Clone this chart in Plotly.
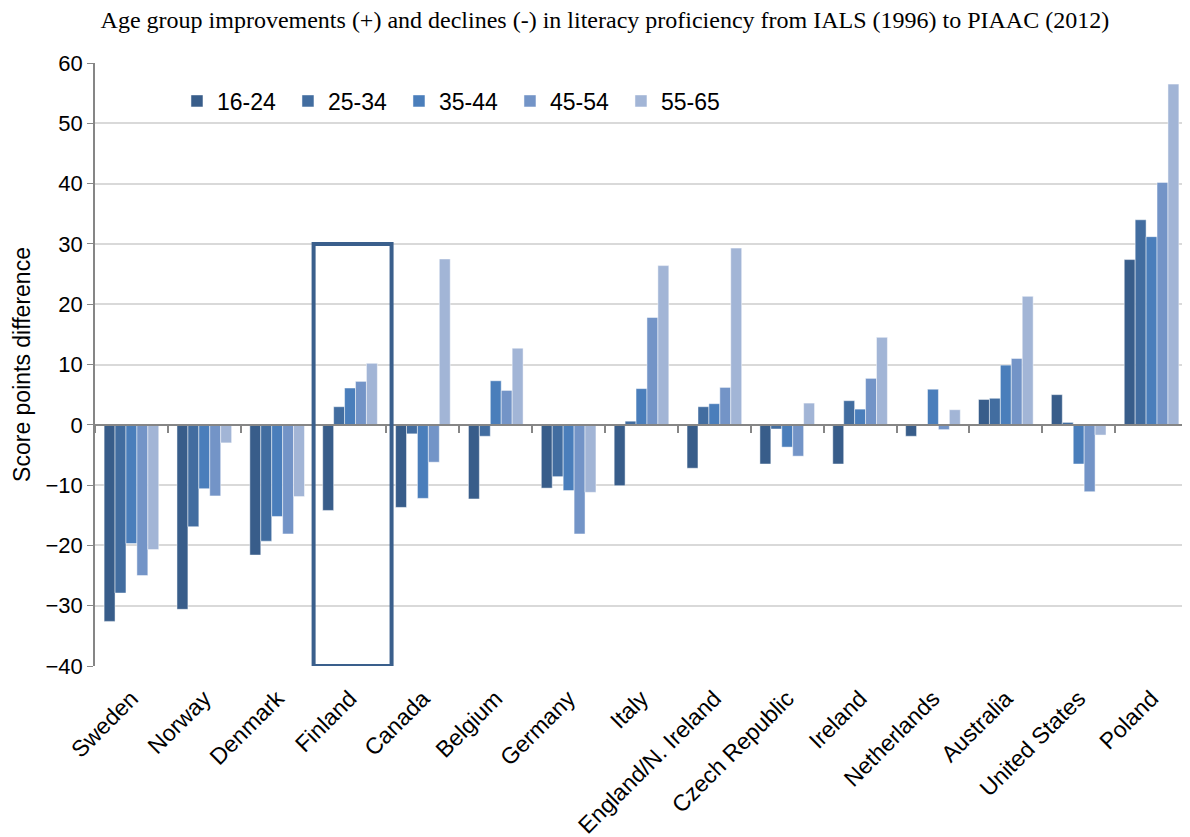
import plotly.graph_objects as go

countries = ["Sweden", "Norway", "Denmark", "Finland", "Canada", "Belgium", "Germany",
             "Italy", "England/N. Ireland", "Czech Republic", "Ireland", "Netherlands",
             "Australia", "United States", "Poland"]
groups = ["16-24", "25-34", "35-44", "45-54", "55-65"]

v_16_24 = [-32.6, -30.6, -21.6, -14.2, -13.7, -12.3, -10.5, -10.1, -7.2, -6.5, -6.5, -1.9, 4.2, 5.0, 27.4]
v_25_34 = [-27.9, -16.9, -19.3, 3.0, -1.5, -1.9, -8.6, 0.6, 3.0, -0.7, 4.0, 0.0, 4.4, 0.4, 34.0]
v_35_44 = [-19.7, -10.6, -15.2, 6.1, -12.2, 7.3, -10.9, 6.0, 3.5, -3.7, 2.6, 5.9, 9.9, -6.5, 31.2]
v_45_54 = [-25.0, -11.8, -18.1, 7.2, -6.2, 5.7, -18.1, 17.8, 6.2, -5.2, 7.7, -0.8, 11.0, -11.1, 40.2]
v_55_65 = [-20.7, -3.0, -11.9, 10.2, 27.5, 12.7, -11.2, 26.4, 29.3, 3.6, 14.5, 2.5, 21.3, -1.7, 56.5]

series = [v_16_24, v_25_34, v_35_44, v_45_54, v_55_65]
colors = ["#385D8A", "#426DA0", "#4A7EBB", "#7394C7", "#A2B5D6"]

highlight = "Finland"
highlight_range = [-40, 30]
y_range = [-40, 60]

fig = go.Figure()
for name, vals, col in zip(groups, series, colors):
    fig.add_trace(go.Bar(x=countries, y=vals, name=name,
                         marker=dict(color=col, line=dict(color="rgba(255,255,255,0.6)", width=0.8))))

# invisible trace carrying the zero-line category axis (ticks between categories)
fig.add_trace(go.Scatter(x=countries, y=[None] * len(countries), xaxis="x2", yaxis="y",
                         mode="markers", showlegend=False, hoverinfo="skip"))

hi = countries.index(highlight)
fig.add_shape(type="rect", xref="x", yref="y",
              x0=hi - 0.5, x1=hi + 0.57, y0=highlight_range[0], y1=highlight_range[1],
              line=dict(color="#3A5F8C", width=4), fillcolor="rgba(0,0,0,0)", layer="above")

fig.update_layout(
    width=1182, height=829,
    margin=dict(l=87, r=2, t=55, b=171),
    paper_bgcolor="white", plot_bgcolor="white",
    barmode="group", bargap=0.25, bargroupgap=0,
    title=dict(text="Age group improvements (+) and declines (-) in literacy proficiency from IALS (1996) to PIAAC (2012)",
               font=dict(family="Liberation Serif", size=24, color="black"),
               x=0.505, xanchor="center", y=0.986, yanchor="middle"),
    font=dict(family="Liberation Sans", color="black"),
    legend=dict(orientation="h", x=0.075, y=0.937, xanchor="left", yanchor="middle",
                font=dict(size=23, family="Liberation Sans"), bgcolor="rgba(0,0,0,0)",
                entrywidth=66, traceorder="normal"),
    xaxis=dict(type="category", tickangle=-45, tickfont=dict(size=23), automargin=False,
               showline=False, ticks="outside", ticklen=9, tickcolor="rgba(0,0,0,0)",
               showgrid=False, range=[-0.5, 14.5]),
    xaxis2=dict(type="category", overlaying="x", anchor="free",
                position=(0 - y_range[0]) / (y_range[1] - y_range[0]),
                range=[-0.5, 14.5], tickson="boundaries",
                ticks="outside", ticklen=7, tickcolor="#868686", tickwidth=1.5,
                showticklabels=False, showline=True, linecolor="#868686", linewidth=1.5,
                showgrid=False, zeroline=False, automargin=False),
    yaxis=dict(range=y_range, dtick=10, showgrid=True, gridcolor="#D9D9D9", gridwidth=1.5,
               zeroline=False, showline=True, linecolor="#868686", linewidth=1.5,
               ticks="outside", ticklen=6, tickcolor="#868686", automargin=False,
               tickfont=dict(size=22),
               title=dict(text="Score points difference", font=dict(size=23), standoff=8)),
)
fig.write_html("out.html")
